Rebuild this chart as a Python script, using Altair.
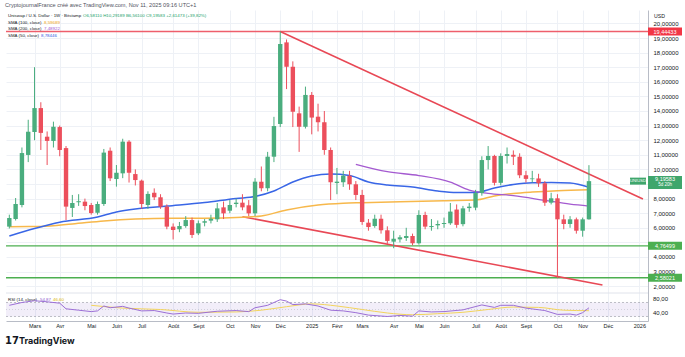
import altair as alt
import pandas as pd

FONT = "Liberation Sans"
UP = "#4aad7e"
DOWN = "#ec4f5c"
GRID = "#eef1f6"
AXC = "#b8bcc6"
TXT = "#131722"
W, H = 642, 311

# ---------------- data ----------------
first_week = "2024-02-05"
opens = [6.08, 6.60, 7.56, 10.99, 12.56, 14.20, 12.24, 11.95, 12.90, 11.46,
         7.36, 7.75, 7.79, 7.56, 7.03, 7.63, 11.28, 9.34, 9.73, 11.90,
         9.68, 9.23, 7.56, 8.40, 8.09, 7.45, 6.08, 5.90, 6.12, 6.53,
         5.62, 6.35, 6.49, 6.58, 7.40, 7.17, 7.63, 7.72, 7.54, 6.99,
         9.16, 8.71, 10.87, 13.11, 18.70, 17.03, 13.84, 12.92, 15.10, 13.61,
         13.23, 11.33, 9.07, 9.12, 9.57, 8.98, 8.25, 6.35, 6.12, 6.62,
         5.83, 5.05, 5.21, 5.30, 5.44, 4.94, 6.88, 6.05, 6.17, 6.26,
         6.31, 7.25, 6.25, 7.35, 7.38, 8.38, 10.64, 10.92, 9.08, 10.92,
         11.00, 10.87, 9.60, 9.33, 9.38, 9.05, 7.72, 8.02, 6.58, 6.26,
         6.58, 5.80, 6.58]
highs = [6.90, 8.04, 11.50, 13.40, 17.00, 14.60, 12.60, 13.27, 13.00, 11.60,
         8.25, 8.30, 8.00, 7.70, 7.80, 11.40, 11.50, 10.30, 12.10, 12.00,
         10.00, 9.30, 8.50, 8.70, 8.30, 7.60, 6.30, 6.40, 6.80, 6.70,
         6.50, 6.60, 6.90, 7.70, 7.80, 7.90, 8.00, 8.30, 7.90, 9.40,
         10.20, 11.20, 13.60, 19.44, 18.90, 17.40, 14.30, 15.67, 15.30, 14.50,
         14.00, 11.50, 10.10, 9.90, 9.90, 9.20, 8.60, 6.60, 6.90, 6.90,
         6.10, 5.80, 5.50, 6.00, 5.60, 7.20, 7.10, 6.60, 6.50, 6.70,
         7.70, 7.60, 7.50, 7.70, 8.60, 10.90, 11.60, 11.00, 11.10, 11.50,
         11.30, 11.10, 9.90, 9.90, 9.70, 9.20, 8.40, 8.30, 6.90, 6.80,
         6.70, 6.70, 10.29]
lows = [5.95, 6.50, 7.40, 10.50, 12.00, 11.33, 10.30, 11.50, 10.90, 6.53,
        6.74, 7.50, 7.20, 6.90, 6.90, 7.50, 9.20, 8.82, 9.40, 9.10,
        8.90, 7.30, 7.30, 7.90, 7.30, 5.90, 5.20, 5.70, 6.00, 5.30,
        5.50, 6.10, 6.30, 6.40, 6.60, 7.00, 7.40, 7.20, 6.80, 6.80,
        8.50, 8.50, 10.50, 12.90, 15.50, 12.90, 11.20, 12.80, 12.40, 12.60,
        11.00, 7.90, 8.30, 8.80, 8.60, 7.90, 6.20, 5.80, 6.00, 5.60,
        4.90, 4.60, 5.00, 5.10, 4.80, 4.85, 5.90, 5.80, 5.90, 6.00,
        6.20, 6.00, 6.10, 7.10, 7.20, 8.20, 10.00, 8.90, 8.90, 10.40,
        10.30, 9.40, 9.10, 9.10, 8.80, 7.50, 7.60, 2.55, 5.90, 6.00,
        5.60, 5.39, 6.56]
closes = [6.67, 7.63, 11.12, 12.58, 14.20, 12.50, 11.95, 12.92, 11.33, 7.45,
          7.70, 7.82, 7.49, 7.01, 7.63, 11.15, 9.39, 9.77, 11.90, 9.77,
          9.27, 7.63, 8.32, 8.09, 7.45, 6.08, 5.85, 6.12, 6.53, 5.51,
          6.31, 6.45, 6.62, 7.33, 6.99, 7.56, 7.72, 7.40, 6.99, 9.16,
          8.71, 10.87, 12.97, 18.59, 17.03, 13.95, 12.92, 15.10, 13.55, 13.23,
          11.33, 9.12, 9.16, 9.57, 8.98, 8.25, 6.40, 6.05, 6.62, 5.83,
          5.10, 5.25, 5.35, 5.44, 4.94, 6.88, 6.08, 6.12, 6.26, 6.33,
          7.11, 6.20, 7.33, 7.45, 8.38, 10.64, 10.92, 9.08, 10.92, 11.05,
          10.87, 9.60, 9.35, 9.38, 9.05, 7.72, 8.02, 6.58, 6.26, 6.58,
          5.80, 6.58, 9.196]

sma50_weeks = [0, 4, 8, 14, 17, 20, 25, 31, 36, 39, 42, 45, 48, 51, 54, 57, 60,
               64, 68, 71, 74, 77, 80, 83, 86, 89, 92]
sma50_vals = [5.44, 5.95, 6.38, 6.74, 7.08, 7.29, 7.49, 7.73, 8.01, 8.14, 8.52,
              9.14, 9.55, 9.68, 9.58, 9.14, 8.93, 8.79, 8.52, 8.42, 8.42, 8.73,
              8.97, 9.09, 9.10, 9.07, 8.78]
sma100_weeks = [0, 5, 10, 15, 20, 26, 31, 37, 40, 44, 49, 53, 56, 62, 69, 74,
                77, 80, 83, 87, 92]
sma100_vals = [6.08, 6.09, 6.26, 6.47, 6.60, 6.65, 6.65, 6.72, 6.81, 7.22, 7.56,
               7.68, 7.72, 7.79, 7.86, 7.90, 8.18, 8.35, 8.45, 8.54, 8.60]
sma200_weeks = [55, 60, 65, 70, 73, 76, 80, 85, 89, 92]
sma200_vals = [10.35, 9.84, 9.58, 9.13, 8.58, 8.36, 8.20, 7.88, 7.62, 7.49]

rsi_weeks = [0, 2, 4, 6, 8, 9, 11, 13, 14, 15, 16, 18, 19, 21, 23, 25, 26, 28,
             30, 33, 36, 38, 39, 41, 43, 44, 45, 47, 49, 51, 53, 55, 57, 60, 62,
             64, 65, 67, 69, 72, 75, 77, 78, 80, 82, 85, 87, 89, 90, 91, 92]
rsi_vals = [62, 70, 75, 72, 68, 52, 48, 44, 46, 60, 55, 59, 54, 46, 47, 40, 37,
            40, 39, 45, 47, 44, 55, 62, 78, 74, 64, 66, 60, 48, 46, 41, 34, 30,
            33, 31, 46, 43, 44, 49, 63, 56, 62, 62, 54, 47, 36, 37, 34, 41, 54.87]
rsima_weeks = [13, 18, 24, 30, 36, 40, 44, 48, 52, 56, 60, 64, 68, 72, 76, 80,
               84, 88, 92]
rsima_vals = [62, 54, 50, 42, 43, 48, 58, 66, 60, 50, 40, 35, 38, 42, 50, 57,
              56, 48, 46.6]

ath_level = [19.444]
support_levels = [4.765, 2.580]
upper_trend_dates = ["2024-12-02", "2026-01-09"]
upper_trend_vals = [19.444, 7.97]
lower_trend_dates = ["2024-10-21", "2025-11-25"]
lower_trend_vals = [6.76, 2.08]

tick_dates = ["2024-03-04", "2024-04-01", "2024-05-06", "2024-06-03", "2024-07-01",
              "2024-08-05", "2024-09-02", "2024-10-07", "2024-11-04", "2024-12-02",
              "2025-01-06", "2025-02-03", "2025-03-03", "2025-04-07", "2025-05-05",
              "2025-06-02", "2025-07-07", "2025-08-04", "2025-09-01", "2025-10-06",
              "2025-11-03", "2025-12-01", "2026-01-05"]
tick_labels = ["Mars", "Avr", "Mai", "Juin", "Juil", "Août", "Sept", "Oct", "Nov",
               "Déc", "2025", "Févr", "Mars", "Avr", "Mai", "Juin", "Juil", "Août",
               "Sept", "Oct", "Nov", "Déc", "2026"]
price_ticks = list(range(2, 21))
hidden_price_labels = [5, 9]   # covered by the badges in the reference
rsi_ticks = [80, 40]
rsi_tick_labels = ["80,00", "40,00"]

# ---------------- helpers ----------------
week_dates = pd.date_range(first_week, periods=len(opens), freq="7D").strftime("%Y-%m-%d").tolist()


def dt(s, h=0, m=0):
    y, mo, d = map(int, s.split("-"))
    return alt.DateTime(year=y, month=mo, date=d, hours=h, minutes=m, utc=True)


xscale = alt.Scale(type="utc", domain=[dt("2024-02-06", 20, 37), dt("2026-01-09", 1, 12)])
labels_js = "[" + ",".join("'%s'" % l for l in tick_labels) + "]"
dates_js = "[" + ",".join("'%s'" % d for d in tick_dates) + "]"
xaxis = alt.Axis(values=[dt(s) for s in tick_dates],
                 labelExpr=f"{labels_js}[indexof({dates_js}, utcFormat(datum.value, '%Y-%m-%d'))]",
                 grid=True, gridColor=GRID, gridWidth=1, ticks=False, domain=True,
                 domainColor=AXC, labelFont=FONT, labelFontSize=5.5, labelColor=TXT,
                 labelPadding=2, labelOverlap=False, labelFlush=False, title=None)
X = alt.X("date:T", scale=xscale, axis=xaxis, title=None)

yscale = alt.Scale(domain=[-0.384, 20.918], nice=False, zero=False)
hidden_js = "[" + ",".join(str(v) for v in hidden_price_labels) + "]"
yaxis = alt.Axis(orient="right", values=price_ticks,
                 labelExpr=f"indexof({hidden_js}, datum.value) >= 0 ? '' : replace(format(datum.value, '.5f'), '.', ',')",
                 grid=True, gridColor=GRID, gridWidth=1, ticks=False, domain=True,
                 domainColor=AXC, labelFont=FONT, labelFontSize=6, labelColor=TXT,
                 labelPadding=5, title=None)


def YP(f):
    return alt.Y(f + ":Q", scale=yscale, axis=yaxis, title=None)


rscale = alt.Scale(domain=[17.14, 905.7], nice=False, zero=False)


def YR(f):
    return alt.Y(f + ":Q", scale=rscale, axis=None, title=None)


def txt(s, x, y, color, size=4.4, weight="normal", align="left", font=FONT):
    return alt.Chart(pd.DataFrame({"t": [s]})).mark_text(
        align=align, baseline="middle", fontSize=size, color=color, font=font,
        fontWeight=weight).encode(x=alt.value(x), y=alt.value(y), text="t:N")


def series(weeks, vals, name):
    return pd.DataFrame({"date": [week_dates[w] for w in weeks], name: vals})


# ---------------- price pane ----------------
candles = pd.DataFrame({"date": week_dates, "open": opens, "high": highs,
                        "low": lows, "close": closes})
candles["dir"] = ["up" if c >= o else "down" for o, c in zip(opens, closes)]
ccolor = alt.Color("dir:N", scale=alt.Scale(domain=["up", "down"], range=[UP, DOWN]), legend=None)

base = alt.Chart(candles)
wicks = base.mark_rule(strokeWidth=1, clip=True).encode(x=X, y=YP("low"), y2="high", color=ccolor)
bodies = base.mark_bar(size=4.4, clip=True).encode(x=X, y=YP("open"), y2="close", color=ccolor)

sma50 = alt.Chart(series(sma50_weeks, sma50_vals, "v")).mark_line(
    color="#3966e6", strokeWidth=1.5, interpolate="monotone", clip=True).encode(x=X, y=YP("v"))
sma100 = alt.Chart(series(sma100_weeks, sma100_vals, "v")).mark_line(
    color="#f7b84b", strokeWidth=1.5, interpolate="monotone", clip=True).encode(x=X, y=YP("v"))
sma200 = alt.Chart(series(sma200_weeks, sma200_vals, "v")).mark_line(
    color="#a45ad0", strokeWidth=1.3, interpolate="monotone", clip=True).encode(x=X, y=YP("v"))

ath = alt.Chart(pd.DataFrame({"p": ath_level})).mark_rule(
    color="#ee5f6c", strokeWidth=1.6).encode(y=YP("p"))
supports = alt.Chart(pd.DataFrame({"p": support_levels})).mark_rule(
    color="#4caf50", strokeWidth=1.3).encode(y=YP("p"))
upper = alt.Chart(pd.DataFrame({"date": upper_trend_dates, "p": upper_trend_vals})).mark_line(
    color="#e84855", strokeWidth=1.6, clip=True).encode(x=X, y=YP("p"))
lower = alt.Chart(pd.DataFrame({"date": lower_trend_dates, "p": lower_trend_vals})).mark_line(
    color="#e84855", strokeWidth=1.6, clip=True).encode(x=X, y=YP("p"))

sep = alt.Chart(pd.DataFrame({"a": [0]})).mark_rule(color="#e0e3eb", strokeWidth=1).encode(
    x=alt.value(0), x2=alt.value(W), y=alt.value(283))

# badges on the price scale
red_badge_df = pd.DataFrame({"p": ath_level, "t": ["19,44433"]})
red_badge = alt.Chart(red_badge_df).mark_rule(color="#f23645", strokeWidth=8).encode(
    x=alt.value(W), x2=alt.value(W + 34), y=YP("p"))
red_badge_t = alt.Chart(red_badge_df).mark_text(
    color="white", fontSize=5.5, font=FONT, align="center", baseline="middle").encode(
    x=alt.value(W + 17), y=YP("p"), text="t:N")

sup_df = pd.DataFrame({"p": support_levels, "t": ["4,76499", "2,58021"]})
sup_badge = alt.Chart(sup_df).mark_rule(color="#4caf50", strokeWidth=8).encode(
    x=alt.value(W), x2=alt.value(W + 34), y=YP("p"))
sup_badge_t = alt.Chart(sup_df).mark_text(
    color="white", fontSize=5.5, font=FONT, align="center", baseline="middle").encode(
    x=alt.value(W + 17), y=YP("p"), text="t:N")

last_df = pd.DataFrame({"p": [closes[-1]], "t": ["9,19583"], "c": ["5d 20h"], "s": ["UNIUSD"]})
last_badge = alt.Chart(last_df).mark_rule(color="#3fa66c", strokeWidth=13, yOffset=1.3).encode(
    x=alt.value(W), x2=alt.value(W + 34), y=YP("p"))
last_badge_t = alt.Chart(last_df).mark_text(
    color="white", fontSize=5.5, font=FONT, align="center", baseline="middle", yOffset=-1.7).encode(
    x=alt.value(W + 17), y=YP("p"), text="t:N")
last_badge_c = alt.Chart(last_df).mark_text(
    color="white", fontSize=4.5, font=FONT, align="center", baseline="middle", yOffset=4).encode(
    x=alt.value(W + 17), y=YP("p"), text="c:N")
sym_badge = alt.Chart(last_df).mark_rule(color="#3fa66c", strokeWidth=7).encode(
    x=alt.value(W - 18), x2=alt.value(W - 2), y=YP("p"))
sym_badge_t = alt.Chart(last_df).mark_text(
    color="white", fontSize=4.2, font=FONT, align="center", baseline="middle").encode(
    x=alt.value(W - 10), y=YP("p"), text="s:N")

texts = [
    txt("CryptojournalFrance créé avec TradingView.com, Nov 11, 2025 09:16 UTC+1", -1, -5, "#50535e", size=5.6),
    txt("Uniswap / U.S. Dollar · 1W · Bitstamp", 2, 5.5, TXT),
    txt("O6,58110 H10,29189 B6,56100 C9,19583 +2,61473 (+39,82%)", 77, 5.5, "#22a06b"),
    txt("SMA (100, close)", 2, 12.5, TXT),
    txt("8,59689", 38, 12.5, "#f0a81c"),
    txt("SMA (200, close)", 2, 19, TXT),
    txt("7,48922", 38, 19, "#a45ad0"),
    txt("SMA (50, close)", 2, 26, TXT),
    txt("8,78446", 35, 26, "#2f5ce0"),
    txt("USD", W + 6, 6, TXT, size=5.2),
    txt("RSI (14, close)", 2, 290, TXT),
    txt("54,87", 34, 290, "#8e5bd0"),
    txt("46,60", 47, 290, "#d9b400"),
    txt("17", -1, 331, "#131722", size=10, weight="bold", font="DejaVu Sans"),
    txt("TradingView", 13, 331, "#131722", size=9, weight="bold", font="Inter"),
]

price = alt.layer(sep, supports, ath, upper, lower, sma100, sma50, sma200, wicks, bodies,
                  red_badge, red_badge_t, sup_badge, sup_badge_t, last_badge, last_badge_t,
                  last_badge_c, sym_badge, sym_badge_t, *texts)

# ---------------- RSI pane ----------------
band = alt.Chart(pd.DataFrame({"hi": [70], "lo": [30]})).mark_rect(
    color="#7e57c2", opacity=0.1).encode(x=alt.value(0), x2=alt.value(W), y=YR("hi"), y2="lo")
band_lines = alt.Chart(pd.DataFrame({"v": [70, 30]})).mark_rule(
    color="#9598a1", strokeWidth=0.6, strokeDash=[2, 2]).encode(x=alt.value(0), x2=alt.value(W), y=YR("v"))
mid_line = alt.Chart(pd.DataFrame({"v": [50]})).mark_rule(
    color="#b2b5be", strokeWidth=0.5, strokeDash=[1, 2]).encode(x=alt.value(0), x2=alt.value(W), y=YR("v"))
rsi_line = alt.Chart(series(rsi_weeks, rsi_vals, "r")).mark_line(
    color="#9c6fd6", strokeWidth=1, clip=True).encode(x=X, y=YR("r"))
rsima_line = alt.Chart(series(rsima_weeks, rsima_vals, "r")).mark_line(
    color="#f2d45c", strokeWidth=1, interpolate="monotone", clip=True).encode(x=X, y=YR("r"))
rsi_lbl = alt.Chart(pd.DataFrame({"r": rsi_ticks, "t": rsi_tick_labels})).mark_text(
    color=TXT, fontSize=6, font=FONT, align="left", baseline="middle").encode(
    x=alt.value(W + 5), y=YR("r"), text="t:N")

rsi = alt.layer(band, band_lines, mid_line, rsima_line, rsi_line, rsi_lbl)

chart = alt.layer(price, rsi).resolve_scale(y="independent").properties(
    width=W, height=H,
    padding={"left": 6, "top": 10, "right": 37, "bottom": 36},
    autosize=alt.AutoSizeParams(type="none"),
    background="white",
).configure_view(stroke=None)

chart.save("out.html", embed_options={"renderer": "svg", "actions": False})
